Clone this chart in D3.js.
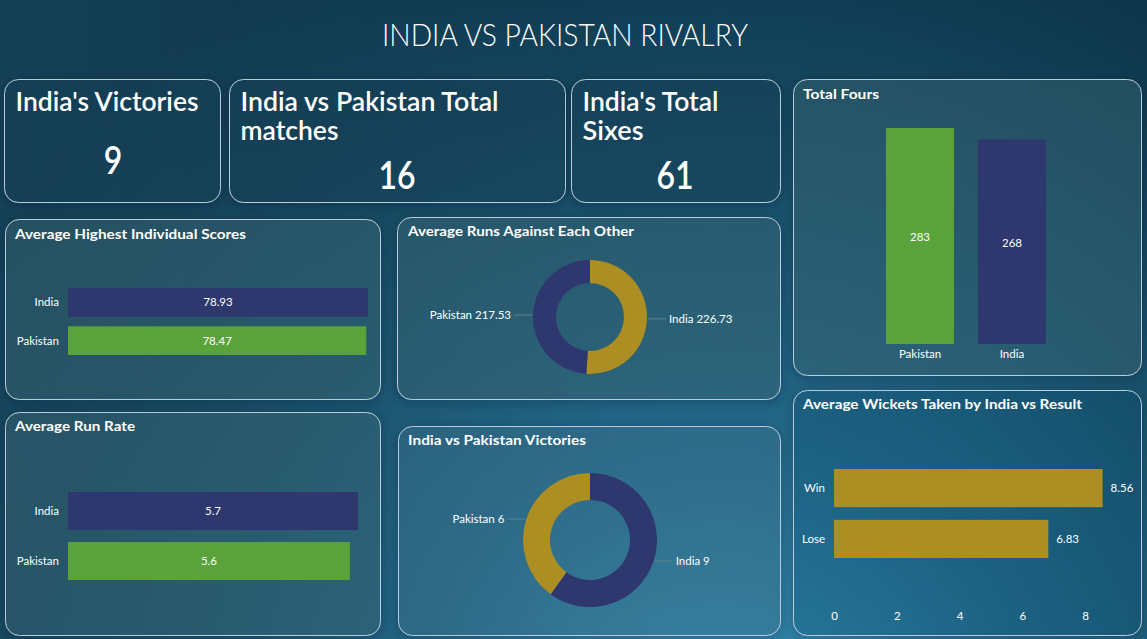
<!DOCTYPE html>
<html><head><meta charset="utf-8">
<script src="https://cdn.jsdelivr.net/npm/d3@7"></script>
<style>
html,body{margin:0;padding:0;background:#123f56;overflow:hidden}
svg{display:block}
text{font-family:Lato,"Open Sans",sans-serif;fill:#fff}
</style></head>
<body><svg id="c" width="1147" height="639"></svg>
<script>
// ---- data ----
const mainTitle = "INDIA VS PAKISTAN RIVALRY";
const kpiTitles = [["India's Victories"], ["India vs Pakistan Total", "matches"], ["India's Total", "Sixes"]];
const kpiValues = [9, 16, 61];
const teams = ["India", "Pakistan"];
const highestScores = [78.93, 78.47];
const runRates = [5.72, 5.56];
const avgRuns = [226.73, 217.53];
const victories = [9, 6];
const foursTeams = ["Pakistan", "India"];
const foursValues = [283, 268];
const results = ["Win", "Lose"];
const wickets = [8.56, 6.83];
const wicketTicks = [0, 2, 4, 6, 8];

const NAVY = "#2e376e", GREEN = "#5aa33a", GOLD = "#ac8e22";
const svg = d3.select("#c");
const defs = svg.append("defs");

// background gradient
const rg = defs.append("radialGradient").attr("id", "bg").attr("gradientUnits", "userSpaceOnUse")
  .attr("cx", 720).attr("cy", 760).attr("r", 900);
rg.append("stop").attr("offset", "0").attr("stop-color", "#3791b8");
rg.append("stop").attr("offset", "0.35").attr("stop-color", "#23688a");
rg.append("stop").attr("offset", "0.7").attr("stop-color", "#154a63");
rg.append("stop").attr("offset", "1").attr("stop-color", "#0c3146");
svg.append("rect").attr("width", 1147).attr("height", 639).attr("fill", "url(#bg)");
const lg = defs.append("linearGradient").attr("id", "tl").attr("x1", 0).attr("y1", 0).attr("x2", 1).attr("y2", 0);
lg.append("stop").attr("offset", 0).attr("stop-color", "#1d5068").attr("stop-opacity", 0.5);
lg.append("stop").attr("offset", 0.5).attr("stop-color", "#1d5068").attr("stop-opacity", 0);
svg.append("rect").attr("width", 1147).attr("height", 639).attr("fill", "url(#tl)");

const sh = defs.append("filter").attr("id", "sh").attr("x", "-10%").attr("y", "-10%").attr("width", "120%").attr("height", "120%");
sh.append("feDropShadow").attr("dx", 0).attr("dy", 2).attr("stdDeviation", 5).attr("flood-color", "#04202e").attr("flood-opacity", 0.6);

function panel(x, y, w, h, fill) {
  svg.append("rect").attr("x", x).attr("y", y).attr("width", w).attr("height", h)
    .attr("rx", 14).attr("ry", 14).attr("fill", fill).attr("filter", "url(#sh)")
    .attr("stroke", "#b9cdd6").attr("stroke-width", 1);
}
function title(t, x, y, len) {
  svg.append("text").attr("x", x).attr("y", y).text(t).attr("font-size", 14).attr("font-weight", 700)
    .attr("textLength", len).attr("lengthAdjust", "spacingAndGlyphs");
}

// main title
svg.append("text").attr("x", 382).attr("y", 46).text(mainTitle).attr("font-size", 32).attr("font-weight", 300)
  .attr("textLength", 366).attr("lengthAdjust", "spacingAndGlyphs");

// KPI cards
const cards = [
  {x: 4.5, y: 79.5, w: 216, h: 123, tw: [183], cx: 113},
  {x: 229.5, y: 79.5, w: 336, h: 123, tw: [258, 98], cx: 397},
  {x: 571.5, y: 79.5, w: 209, h: 123, tw: [136, 61], cx: 675}
];
cards.forEach((c, i) => {
  panel(c.x, c.y, c.w, c.h, "rgba(20,70,95,0.35)");
  kpiTitles[i].forEach((t, j) => {
    svg.append("text").attr("x", c.x + 11).attr("y", 111 + j * 29).text(t)
      .attr("font-size", 26).attr("font-weight", 600)
      .attr("textLength", c.tw[j]).attr("lengthAdjust", "spacingAndGlyphs");
  });
  svg.append("text").attr("x", c.cx).attr("y", i === 0 ? 174 : 189).attr("text-anchor", "middle")
    .text(kpiValues[i]).attr("font-size", 39).attr("font-weight", 600)
    .attr("transform", `translate(${c.cx},0) scale(0.82,1) translate(${-c.cx},0)`);
});

const PF = "rgba(70,115,130,0.32)";

// horizontal bar helper
function hbars(cats, vals, x0, x1, vmax, y0, y1, pad, colors, fmt) {
  const x = d3.scaleLinear().domain([0, vmax]).range([x0, x1]);
  const y = d3.scaleBand().domain(cats).range([y0, y1]).paddingInner(pad).paddingOuter(0);
  const g = svg.append("g");
  g.selectAll("rect").data(vals).join("rect")
    .attr("x", x(0)).attr("y", (d, i) => y(cats[i])).attr("width", d => x(d) - x(0))
    .attr("height", y.bandwidth()).attr("fill", (d, i) => colors[i]);
  g.selectAll("text.v").data(vals).join("text").attr("class", "v")
    .attr("x", d => (x(0) + x(d)) / 2).attr("y", (d, i) => y(cats[i]) + y.bandwidth() / 2 + 4)
    .attr("text-anchor", "middle").attr("font-size", 11.5).text(fmt);
  g.selectAll("text.c").data(cats).join("text").attr("class", "c")
    .attr("x", x0 - 9).attr("y", d => y(d) + y.bandwidth() / 2 + 4)
    .attr("text-anchor", "end").attr("font-size", 11.5).text(d => d);
}

// Average Highest Individual Scores
panel(5.5, 219.5, 375, 180, PF);
title("Average Highest Individual Scores", 15, 239, 231);
hbars(teams, highestScores, 68, 368, 78.93, 288, 355, 0.25, [NAVY, GREEN], d => d.toFixed(2));

// Average Run Rate
panel(5.5, 412.5, 375, 223, PF);
title("Average Run Rate", 15, 431, 120);
hbars(teams, runRates, 68, 358, 5.72, 492, 580, 0.24, [NAVY, GREEN], d => d.toFixed(1));

// Donut helper
function donut(cats, vals, cx, cy, ro, ri, colors, fmt) {
  const pie = d3.pie().sort(null).value(d => d)(vals);
  const arc = d3.arc().innerRadius(ri).outerRadius(ro);
  const g = svg.append("g").attr("transform", `translate(${cx},${cy})`);
  g.selectAll("path").data(pie).join("path").attr("d", arc).attr("fill", (d, i) => colors[i]);
  pie.forEach((p, i) => {
    const a = (p.startAngle + p.endAngle) / 2;
    const px = Math.sin(a) * (ro + 1), py = -Math.cos(a) * (ro + 1);
    const dir = Math.sin(a) >= 0 ? 1 : -1;
    g.append("line").attr("x1", px).attr("y1", py).attr("x2", px + dir * 18).attr("y2", py)
      .attr("stroke", "#5f8090").attr("stroke-width", 1);
    g.append("text").attr("x", px + dir * 21).attr("y", py + 4).attr("font-size", 11.5)
      .attr("text-anchor", dir > 0 ? "start" : "end").text(cats[i] + " " + fmt(vals[i]));
  });
}

// Average Runs Against Each Other
panel(397.5, 217.5, 383, 182, PF);
title("Average Runs Against Each Other", 408, 236, 226);
donut(teams, avgRuns, 590, 317, 57, 34, [GOLD, NAVY], d => d.toFixed(2));

// India vs Pakistan Victories
panel(398.5, 426.5, 382, 209, "rgba(80,135,160,0.25)");
title("India vs Pakistan Victories", 408, 445, 178);
donut(teams, victories, 590, 540, 67, 40, [NAVY, GOLD], d => d);

// Total Fours
panel(793.5, 79.5, 348, 296, PF);
title("Total Fours", 803, 99, 76);
{
  const x = d3.scaleBand().domain(foursTeams).range([886, 1046]).paddingInner(0.26).paddingOuter(0);
  const y = d3.scaleLinear().domain([0, 283]).range([344, 128]);
  const g = svg.append("g");
  g.selectAll("rect").data(foursValues).join("rect")
    .attr("x", (d, i) => x(foursTeams[i])).attr("y", d => y(d)).attr("width", x.bandwidth())
    .attr("height", d => y(0) - y(d)).attr("fill", (d, i) => [GREEN, NAVY][i]);
  g.selectAll("text.v").data(foursValues).join("text").attr("class", "v")
    .attr("x", (d, i) => x(foursTeams[i]) + x.bandwidth() / 2).attr("y", d => (y(d) + y(0)) / 2 + 5)
    .attr("text-anchor", "middle").attr("font-size", 11.5).text(d => d);
  g.selectAll("text.c").data(foursTeams).join("text").attr("class", "c")
    .attr("x", d => x(d) + x.bandwidth() / 2).attr("y", 358)
    .attr("text-anchor", "middle").attr("font-size", 11.5).text(d => d);
}

// Average Wickets Taken by India vs Result
panel(793.5, 390.5, 348, 245, "rgba(30,90,120,0.12)");
title("Average Wickets Taken by India vs Result", 803, 409, 279);
{
  const x = d3.scaleLinear().domain([0, 9]).range([834, 1116.4]);
  const y = d3.scaleBand().domain(results).range([469, 558]).paddingInner(0.25).paddingOuter(0);
  const g = svg.append("g");
  g.selectAll("rect").data(wickets).join("rect")
    .attr("x", x(0)).attr("y", (d, i) => y(results[i])).attr("width", d => x(d) - x(0))
    .attr("height", y.bandwidth()).attr("fill", GOLD);
  g.selectAll("text.v").data(wickets).join("text").attr("class", "v")
    .attr("x", d => x(d) + 8).attr("y", (d, i) => y(results[i]) + y.bandwidth() / 2 + 4)
    .attr("font-size", 11.5).text(d => d.toFixed(2));
  g.selectAll("text.c").data(results).join("text").attr("class", "c")
    .attr("x", 825).attr("y", d => y(d) + y.bandwidth() / 2 + 4)
    .attr("text-anchor", "end").attr("font-size", 11.5).text(d => d);
  const ax = svg.append("g").attr("transform", "translate(0,608)")
    .call(d3.axisBottom(x).tickValues(wicketTicks).tickSize(0).tickPadding(4));
  ax.select(".domain").remove();
  ax.selectAll("text").attr("fill", "#fff").attr("font-size", 11.5).attr("font-family", "Lato,sans-serif");
}
</script></body></html>
